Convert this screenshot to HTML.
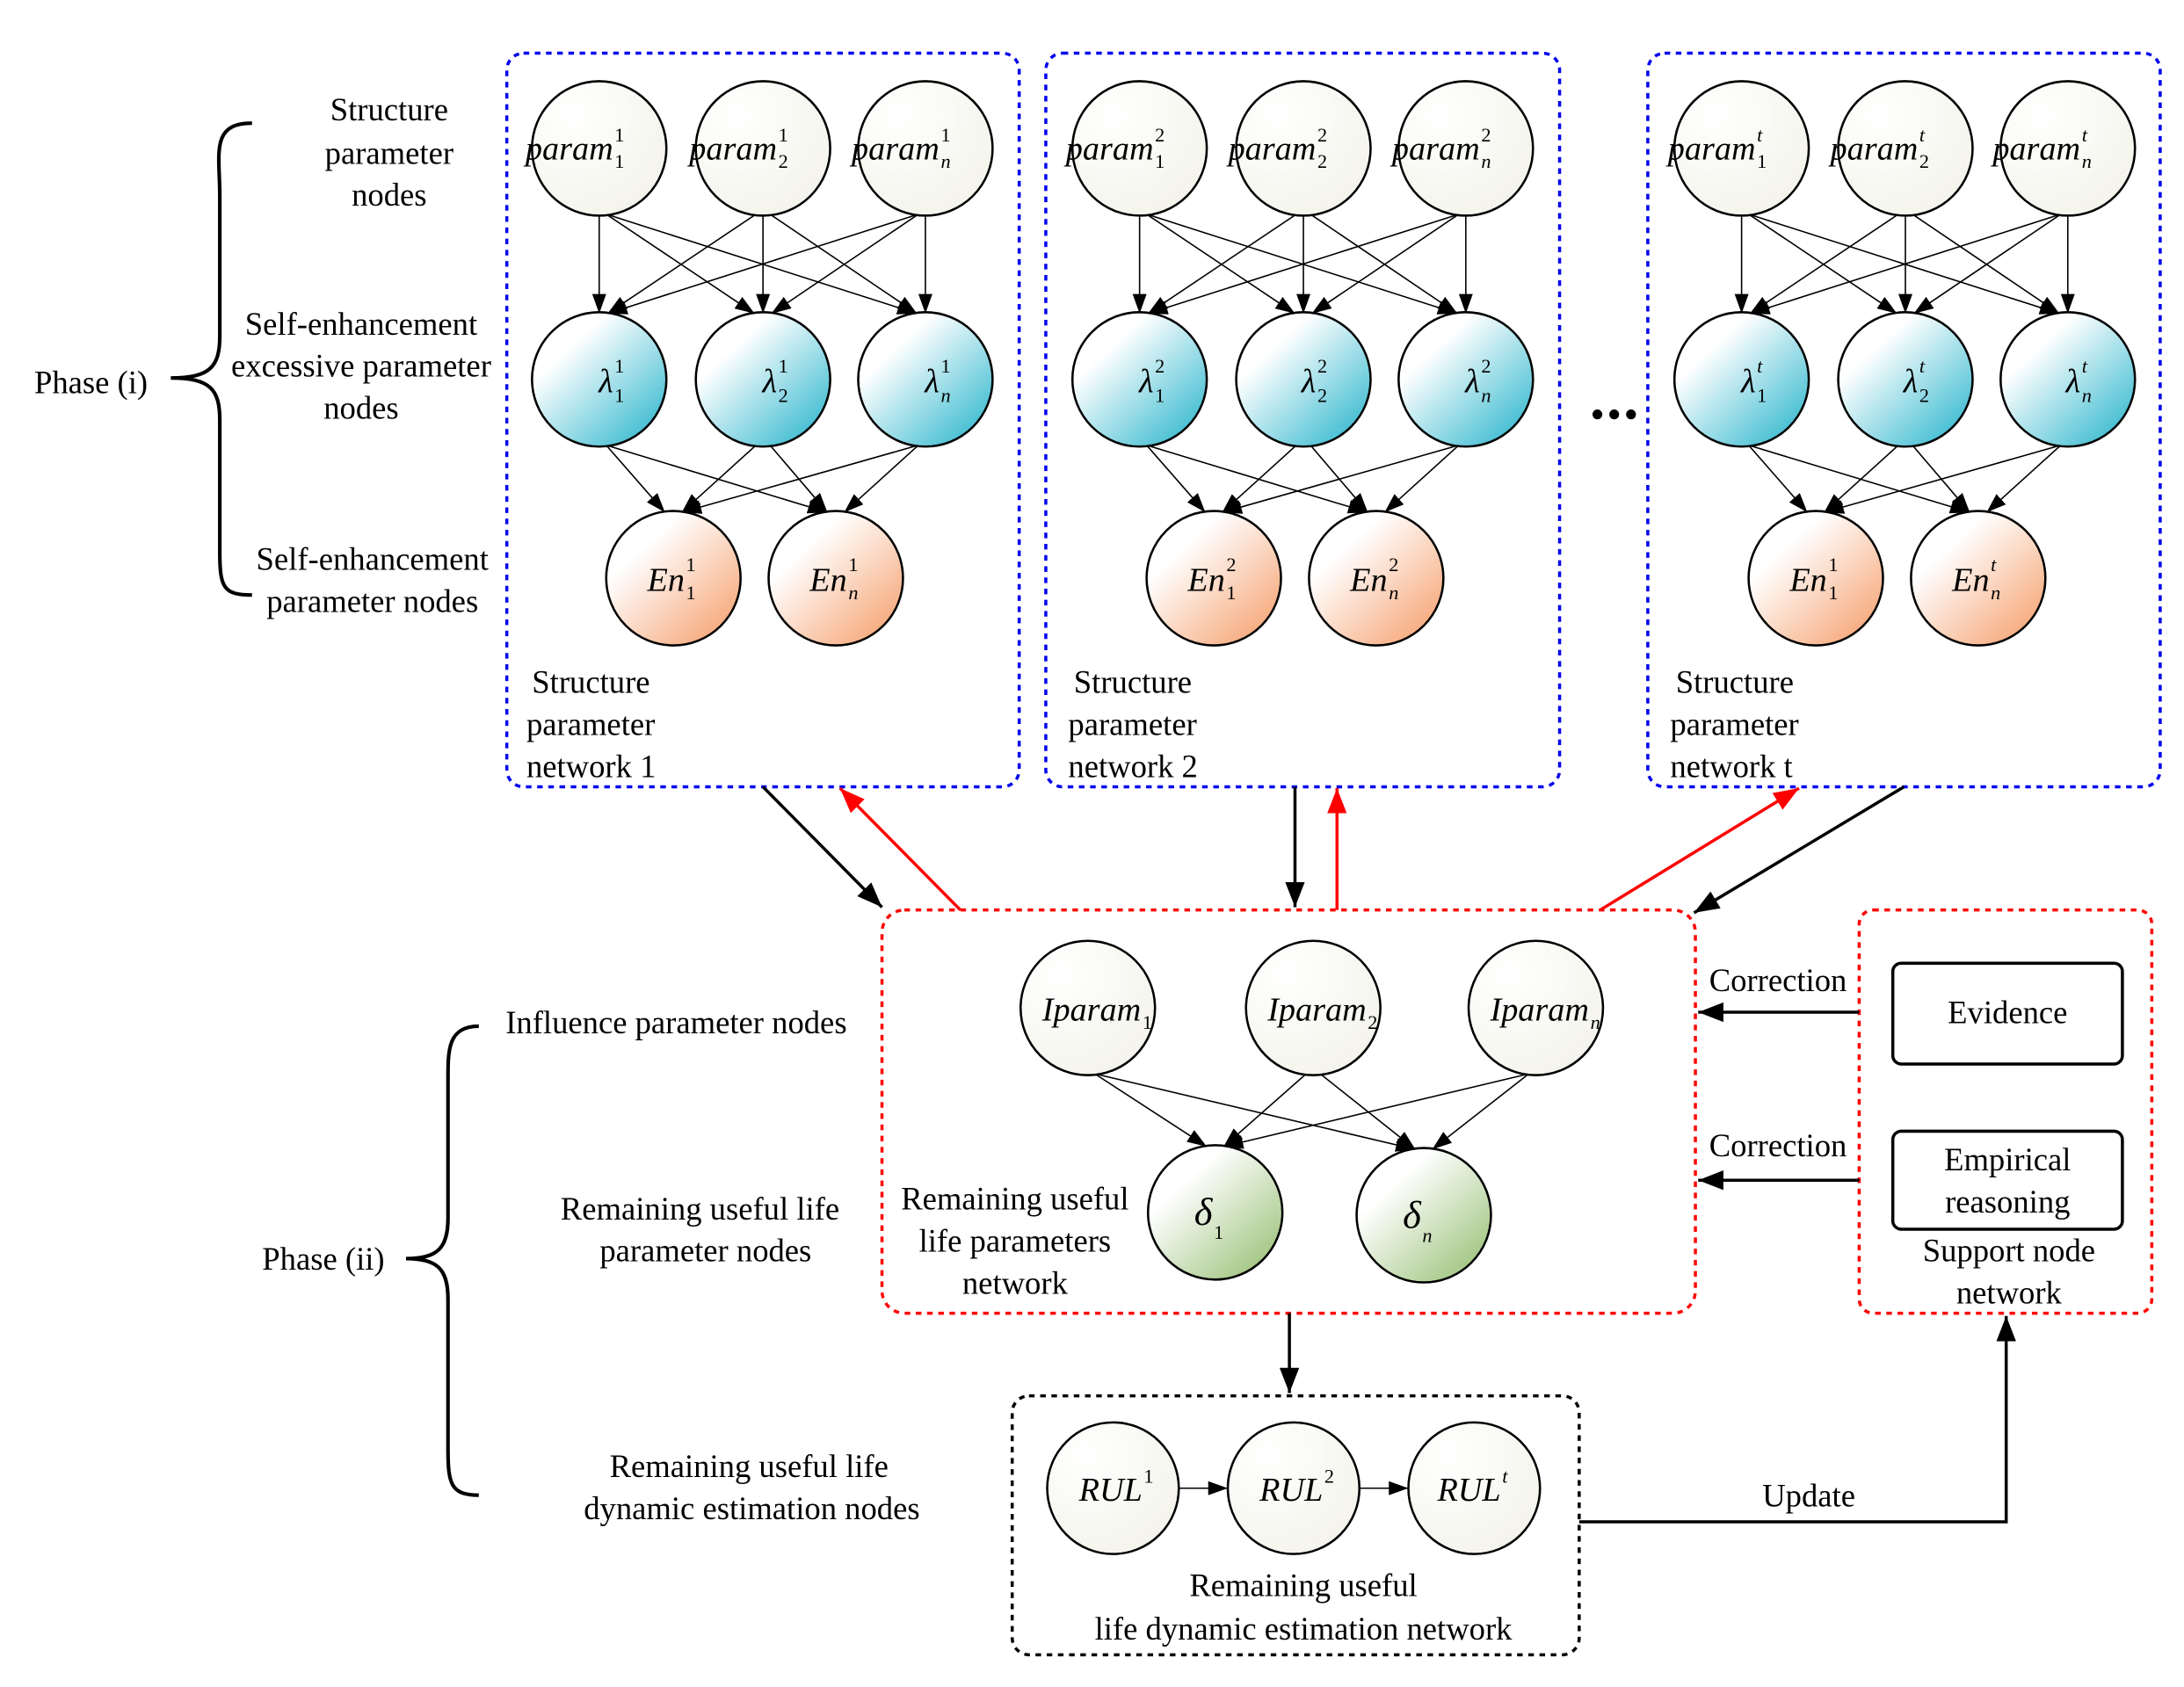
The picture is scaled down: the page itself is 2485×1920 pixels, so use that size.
<!DOCTYPE html>
<html><head><meta charset="utf-8"><style>
html,body{margin:0;padding:0;background:#fff}
svg{display:block}
text{font-family:"Liberation Serif",serif;fill:#000}
.l{font-size:23px}
.n{font-size:24px;font-style:italic}
.s{font-size:14px;font-style:normal}
.si{font-size:14px;font-style:italic}
</style></head><body>
<svg id="s" width="2485" height="1920" viewBox="0 0 1560 1205" preserveAspectRatio="none" xmlns="http://www.w3.org/2000/svg">
<defs>
<radialGradient id="gw" cx="0.3" cy="0.25" r="0.9"><stop offset="0" stop-color="#fff"/><stop offset="1" stop-color="#f3f3ea"/></radialGradient>
<linearGradient id="gb" x1="0.2" y1="0.2" x2="0.9" y2="0.95"><stop offset="0.1" stop-color="#fff"/><stop offset="1" stop-color="#35b9cf"/></linearGradient>
<linearGradient id="go" x1="0.2" y1="0.2" x2="0.9" y2="0.95"><stop offset="0.1" stop-color="#fff"/><stop offset="1" stop-color="#f6a474"/></linearGradient>
<linearGradient id="gg" x1="0.2" y1="0.2" x2="0.9" y2="0.95"><stop offset="0.1" stop-color="#fff"/><stop offset="1" stop-color="#9cc27a"/></linearGradient>
<marker id="a" markerUnits="userSpaceOnUse" markerWidth="14" markerHeight="10" refX="14" refY="5" orient="auto"><path d="M0,0L14,5L0,10z" fill="#000"/></marker>
<marker id="ab" markerUnits="userSpaceOnUse" markerWidth="18" markerHeight="14" refX="18" refY="7" orient="auto"><path d="M0,0L18,7L0,14z" fill="#000"/></marker>
<marker id="ar" markerUnits="userSpaceOnUse" markerWidth="18" markerHeight="14" refX="18" refY="7" orient="auto"><path d="M0,0L18,7L0,14z" fill="#f00"/></marker>
</defs>
<g id="edges" stroke="#000" stroke-width="1"></g>
<g fill="none" stroke-width="2.2" stroke-dasharray="4,4">
<rect x="362" y="38" width="366" height="524" rx="12" stroke="#0000ee"/>
<rect x="747" y="38" width="367" height="524" rx="12" stroke="#0000ee"/>
<rect x="1177" y="38" width="366" height="524" rx="12" stroke="#0000ee"/>
<rect x="630" y="650" width="581" height="288" rx="16" stroke="#f00"/>
<rect x="1328" y="650" width="209" height="288" rx="10" stroke="#f00"/>
<rect x="723" y="997" width="405" height="185" rx="12" stroke="#000"/>
</g>
<g id="nodes" stroke="#000" stroke-width="1.6"></g>
<g fill="none" stroke-width="2.2">
<line x1="545" y1="562" x2="630" y2="648" stroke="#000" marker-end="url(#ab)"/>
<line x1="686" y1="650" x2="600" y2="563" stroke="#f00" marker-end="url(#ar)"/>
<line x1="925" y1="562" x2="925" y2="648" stroke="#000" marker-end="url(#ab)"/>
<line x1="955" y1="650" x2="955" y2="563" stroke="#f00" marker-end="url(#ar)"/>
<line x1="1143" y1="650" x2="1285" y2="563" stroke="#f00" marker-end="url(#ar)"/>
<line x1="1360" y1="562" x2="1210" y2="652" stroke="#000" marker-end="url(#ab)"/>
<line x1="921" y1="938" x2="921" y2="995" stroke="#000" marker-end="url(#ab)"/>
<line x1="1328" y1="723" x2="1213" y2="723" stroke="#000" marker-end="url(#ab)"/>
<line x1="1328" y1="843" x2="1213" y2="843" stroke="#000" marker-end="url(#ab)"/>
<polyline points="1128,1087 1433,1087 1433,940" stroke="#000" marker-end="url(#ab)"/>
<rect x="1352" y="688" width="164" height="72" rx="6" stroke="#000"/>
<rect x="1352" y="808" width="164" height="70" rx="6" stroke="#000"/>
<path d="M180,88 C150,88 157,110 157,140 L157,240 C157,262 150,270 122,270 C150,270 157,278 157,300 L157,395 C157,420 160,425 180,425" stroke="#000" stroke-width="2.6"/>
<path d="M342,733 C320,733 320,750 320,770 L320,870 C320,892 312,899 290,899 C312,899 320,906 320,928 L320,1035 C320,1060 322,1068 342,1068" stroke="#000" stroke-width="2.6"/>
</g>
<circle cx="1141" cy="296" r="3.5"/><circle cx="1153" cy="296" r="3.5"/><circle cx="1165" cy="296" r="3.5"/>
<g class="l">
<text x="278" y="86" text-anchor="middle">Structure</text>
<text x="278" y="117" text-anchor="middle">parameter</text>
<text x="278" y="147" text-anchor="middle">nodes</text>
<text x="258" y="239" text-anchor="middle">Self-enhancement</text>
<text x="258" y="269" text-anchor="middle">excessive parameter</text>
<text x="258" y="299" text-anchor="middle">nodes</text>
<text x="266" y="407" text-anchor="middle">Self-enhancement</text>
<text x="266" y="437" text-anchor="middle">parameter nodes</text>
<text x="65" y="281" text-anchor="middle">Phase (i)</text>
<text x="231" y="907" text-anchor="middle">Phase (ii)</text>
<text x="483" y="738" text-anchor="middle">Influence parameter nodes</text>
<text x="500" y="871" text-anchor="middle">Remaining useful life</text>
<text x="504" y="901" text-anchor="middle">parameter nodes</text>
<text x="535" y="1055" text-anchor="middle">Remaining useful life</text>
<text x="537" y="1085" text-anchor="middle">dynamic estimation nodes</text>
<text x="380" y="495">Structure</text><text x="376" y="525">parameter</text><text x="376" y="555">network 1</text>
<text x="767" y="495">Structure</text><text x="763" y="525">parameter</text><text x="763" y="555">network 2</text>
<text x="1197" y="495">Structure</text><text x="1193" y="525">parameter</text><text x="1193" y="555">network t</text>
<text x="725" y="864" text-anchor="middle">Remaining useful</text>
<text x="725" y="894" text-anchor="middle">life parameters</text>
<text x="725" y="924" text-anchor="middle">network</text>
<text x="931" y="1140" text-anchor="middle">Remaining useful</text>
<text x="931" y="1171" text-anchor="middle">life  dynamic estimation network</text>
<text x="1270" y="708" text-anchor="middle">Correction</text>
<text x="1270" y="826" text-anchor="middle">Correction</text>
<text x="1292" y="1076" text-anchor="middle">Update</text>
<text x="1434" y="731" text-anchor="middle">Evidence</text>
<text x="1434" y="836" text-anchor="middle">Empirical</text>
<text x="1434" y="866" text-anchor="middle">reasoning</text>
<text x="1435" y="901" text-anchor="middle">Support node</text>
<text x="1435" y="931" text-anchor="middle">network</text>
</g>
<g id="labels">
<text class="n" x="438" y="114" text-anchor="end">param</text><text class="s" x="439" y="101">1</text><text class="s" x="439" y="120">1</text>
<text class="n" x="555" y="114" text-anchor="end">param</text><text class="s" x="556" y="101">1</text><text class="s" x="556" y="120">2</text>
<text class="n" x="671" y="114" text-anchor="end">param</text><text class="s" x="672" y="101">1</text><text class="si" x="672" y="120">n</text>
<text class="n" x="438" y="280" text-anchor="end">λ</text><text class="s" x="439" y="266">1</text><text class="s" x="439" y="287">1</text>
<text class="n" x="555" y="280" text-anchor="end">λ</text><text class="s" x="556" y="266">1</text><text class="s" x="556" y="287">2</text>
<text class="n" x="671" y="280" text-anchor="end">λ</text><text class="s" x="672" y="266">1</text><text class="si" x="672" y="287">n</text>
<text class="n" x="489" y="422" text-anchor="end">En</text><text class="s" x="490" y="408">1</text><text class="s" x="490" y="428">1</text>
<text class="n" x="605" y="422" text-anchor="end">En</text><text class="s" x="606" y="408">1</text><text class="si" x="606" y="428">n</text>
<text class="n" x="824" y="114" text-anchor="end">param</text><text class="s" x="825" y="101">2</text><text class="s" x="825" y="120">1</text>
<text class="n" x="940" y="114" text-anchor="end">param</text><text class="s" x="941" y="101">2</text><text class="s" x="941" y="120">2</text>
<text class="n" x="1057" y="114" text-anchor="end">param</text><text class="s" x="1058" y="101">2</text><text class="si" x="1058" y="120">n</text>
<text class="n" x="824" y="280" text-anchor="end">λ</text><text class="s" x="825" y="266">2</text><text class="s" x="825" y="287">1</text>
<text class="n" x="940" y="280" text-anchor="end">λ</text><text class="s" x="941" y="266">2</text><text class="s" x="941" y="287">2</text>
<text class="n" x="1057" y="280" text-anchor="end">λ</text><text class="s" x="1058" y="266">2</text><text class="si" x="1058" y="287">n</text>
<text class="n" x="875" y="422" text-anchor="end">En</text><text class="s" x="876" y="408">2</text><text class="s" x="876" y="428">1</text>
<text class="n" x="991" y="422" text-anchor="end">En</text><text class="s" x="992" y="408">2</text><text class="si" x="992" y="428">n</text>
<text class="n" x="1254" y="114" text-anchor="end">param</text><text class="si" x="1255" y="101">t</text><text class="s" x="1255" y="120">1</text>
<text class="n" x="1370" y="114" text-anchor="end">param</text><text class="si" x="1371" y="101">t</text><text class="s" x="1371" y="120">2</text>
<text class="n" x="1486" y="114" text-anchor="end">param</text><text class="si" x="1487" y="101">t</text><text class="si" x="1487" y="120">n</text>
<text class="n" x="1254" y="280" text-anchor="end">λ</text><text class="si" x="1255" y="266">t</text><text class="s" x="1255" y="287">1</text>
<text class="n" x="1370" y="280" text-anchor="end">λ</text><text class="si" x="1371" y="266">t</text><text class="s" x="1371" y="287">2</text>
<text class="n" x="1486" y="280" text-anchor="end">λ</text><text class="si" x="1487" y="266">t</text><text class="si" x="1487" y="287">n</text>
<text class="n" x="1305" y="422" text-anchor="end">En</text><text class="s" x="1306" y="408">1</text><text class="s" x="1306" y="428">1</text>
<text class="n" x="1421" y="422" text-anchor="end">En</text><text class="si" x="1422" y="408">t</text><text class="si" x="1422" y="428">n</text>
<text class="n" x="815" y="729" text-anchor="end">Iparam</text><text class="s" x="816" y="735">1</text>
<text class="n" x="976" y="729" text-anchor="end">Iparam</text><text class="s" x="977" y="735">2</text>
<text class="n" x="1135" y="729" text-anchor="end">Iparam</text><text class="si" x="1136" y="735">n</text>
<text class="n" x="866" y="875" text-anchor="end" style="font-size:28px">δ</text><text class="s" x="867" y="885">1</text>
<text class="n" x="1015" y="877" text-anchor="end" style="font-size:28px">δ</text><text class="si" x="1016" y="887">n</text>
<text class="n" x="816" y="1072" text-anchor="end">RUL</text><text class="s" x="817" y="1059">1</text>
<text class="n" x="945" y="1072" text-anchor="end">RUL</text><text class="s" x="946" y="1059">2</text>
<text class="n" x="1072" y="1072" text-anchor="end">RUL</text><text class="si" x="1073" y="1059">t</text>
</g>
<script>
var NS="http://www.w3.org/2000/svg",E=document.getElementById("edges"),N=document.getElementById("nodes");
function circ(x,y,r,f){var c=document.createElementNS(NS,"circle");c.setAttribute("cx",x);c.setAttribute("cy",y);c.setAttribute("r",r);c.setAttribute("fill",f);N.appendChild(c);}
function line(x1,y1,x2,y2){var l=document.createElementNS(NS,"line");l.setAttribute("x1",x1);l.setAttribute("y1",y1);l.setAttribute("x2",x2);l.setAttribute("y2",y2);l.setAttribute("marker-end","url(#a)");E.appendChild(l);}
function edgeB(a,b,r){var sg=Math.sign(b[0]-a[0]);var sx=a[0]+sg*5,sy=a[1]+r-1;var tx=b[0]-sg*6,ty=b[1]-r+1;line(sx,sy,tx,ty);}
function edge(a,b,r1,r2){var dx=b[0]-a[0],dy=b[1]-a[1],d=Math.hypot(dx,dy);line(a[0]+dx/d*r1,a[1]+dy/d*r1,b[0]-dx/d*r2,b[1]-dy/d*r2);}
var R=48;
[0,386,816].forEach(function(o){
 var P=[428+o,545+o,661+o].map(function(x){return [x,106]}),L=P.map(function(p){return [p[0],271]}),Q=[[481+o,413],[597+o,413]];
 P.forEach(function(p){L.forEach(function(l){edgeB(p,l,R)})});
 L.forEach(function(l){Q.forEach(function(q){edgeB(l,q,R)})});
 P.forEach(function(p){circ(p[0],p[1],R,"url(#gw)")});
 L.forEach(function(p){circ(p[0],p[1],R,"url(#gb)")});
 Q.forEach(function(p){circ(p[0],p[1],R,"url(#go)")});
});
var I=[[777,720],[938,720],[1097,720]],D=[[868,866],[1017,868]];
I.forEach(function(p){D.forEach(function(q){edgeB(p,q,R)})});
I.forEach(function(p){circ(p[0],p[1],R,"url(#gw)")});
D.forEach(function(p){circ(p[0],p[1],R,"url(#gg)")});
var U=[[795,1063],[924,1063],[1053,1063]];
edge(U[0],U[1],47,47);edge(U[1],U[2],47,47);
U.forEach(function(p){circ(p[0],p[1],47,"url(#gw)")});
</script>
</svg>
</body></html>
